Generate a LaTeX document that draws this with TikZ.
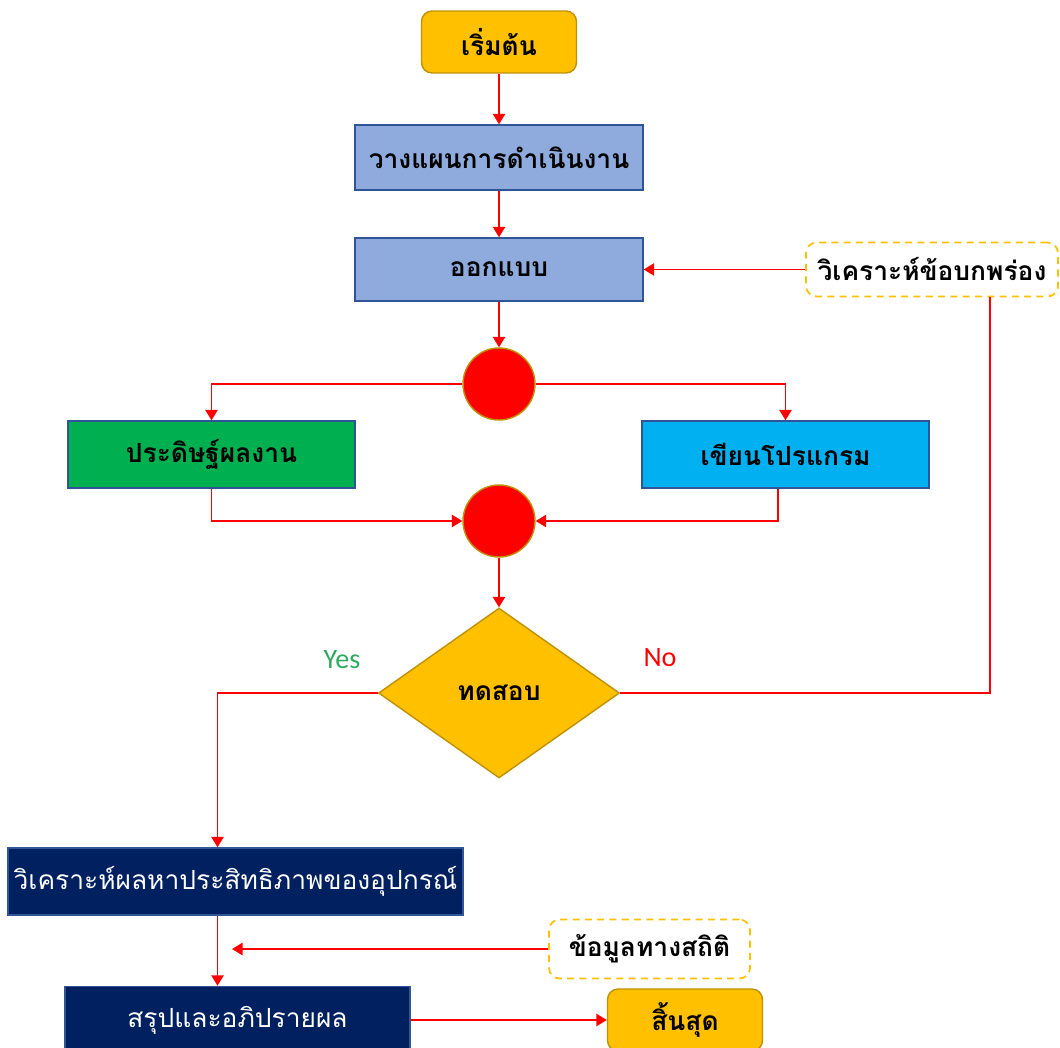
\documentclass[tikz,border=0pt]{standalone}
\usepackage{fontspec}
\newfontfamily\thaifont[Script=Thai]{Loma}
\newfontfamily\latinfont{Carlito}
\usepackage{tikz}
\usetikzlibrary{arrows.meta,shapes.geometric}
\definecolor{gold}{HTML}{FFC000}
\definecolor{golddark}{HTML}{BF9000}
\definecolor{steel}{HTML}{8FAADC}
\definecolor{steeldark}{HTML}{2F5597}
\definecolor{leaf}{HTML}{00B050}
\definecolor{sky}{HTML}{00B0F0}
\definecolor{navy}{HTML}{002060}
\definecolor{yesgreen}{HTML}{2EAA5E}
\newcommand{\thaitext}{\thaifont\fontsize{15}{18}\selectfont}

\begin{document}
\begin{tikzpicture}[x=0.02cm, y=-0.02cm,
    box/.style={rectangle, draw=steeldark, line width=0.8pt, font=\thaitext\bfseries, inner sep=2pt},
    terminal/.style={rectangle, rounded corners=6pt, fill=gold, draw=golddark, line width=0.8pt,
        font=\thaitext\bfseries, minimum width=3.1cm, minimum height=1.24cm},
    note/.style={rectangle, rounded corners=6pt, draw=gold, dashed, dash pattern=on 4pt off 3pt,
        line width=1pt, fill=white, font=\thaitext\bfseries},
    darkbox/.style={rectangle, fill=navy, draw=steeldark, line width=0.8pt, text=white,
        font=\thaitext, minimum height=1.34cm},
    junction/.style={circle, fill=red, draw=golddark, line width=0.8pt, minimum size=1.44cm, inner sep=0pt},
    flow/.style={draw=red, line width=1.1pt, -{Triangle[width=7pt,length=6pt]}},
    link/.style={draw=red, line width=1.1pt}]
\useasboundingbox (0,0) rectangle (1060,1047);
\clip (0,0) rectangle (1060,1047);

\node[terminal] (start) at (499,42) {เริ่มต้น};
\node[box, fill=steel, minimum width=5.76cm, minimum height=1.3cm] (plan) at (499,157.5) {วางแผนการดำเนินงาน};
\node[box, fill=steel, minimum width=5.76cm, minimum height=1.26cm] (design) at (499,269.5) {ออกแบบ};
\node[note, minimum width=5.04cm, minimum height=1.08cm] (flaw) at (932,269.5) {วิเคราะห์ข้อบกพร่อง};
\node[junction] (fork) at (499,384) {};
\node[box, fill=leaf, minimum width=5.74cm, minimum height=1.34cm] (invent) at (211.5,454.5) {ประดิษฐ์ผลงาน};
\node[box, fill=sky, minimum width=5.74cm, minimum height=1.34cm] (code) at (785.5,454.5) {เขียนโปรแกรม};
\node[junction] (merge) at (499,521) {};
\node[diamond, fill=gold, draw=golddark, line width=0.8pt, minimum width=4.82cm, minimum height=3.4cm,
    inner sep=0pt, font=\thaitext\bfseries] (test) at (499,693) {ทดสอบ};
\node[font=\latinfont\fontsize{16}{19}\selectfont, text=yesgreen] (yes) at (342,660) {Yes};
\node[font=\latinfont\fontsize{16}{19}\selectfont, text=red] (no) at (660,658) {No};
\node[darkbox, minimum width=9.1cm] (analysis) at (235.5,881.5) {วิเคราะห์ผลหาประสิทธิภาพของอุปกรณ์};
\node[note, minimum width=4.02cm, minimum height=1.18cm] (stat) at (649.5,949) {ข้อมูลทางสถิติ};
\node[darkbox, minimum width=6.9cm] (concl) at (237.5,1020) {สรุปและอภิปรายผล};
\node[terminal] (finish) at (685,1020) {สิ้นสุด};
\coordinate (statend) at (232,949);

\draw[flow] (start) -- (plan);
\draw[flow] (plan) -- (design);
\draw[flow] (flaw) -- (design);
\draw[flow] (design) -- (fork);
\draw[flow] (fork) -| (invent.north);
\draw[flow] (fork) -| (code.north);
\draw[flow] (invent.south) |- (merge);
\draw[flow] ([xshift=-0.15cm]code.south) |- (merge);
\draw[flow] (merge) -- (test);
\draw[link] ([xshift=1.16cm]flaw.south) |- (test.east);
\draw[flow] (test.west) -| ([xshift=-0.36cm]analysis.north);
\draw[flow] ([xshift=-0.36cm]analysis.south) -- ([xshift=-0.36cm]analysis.south |- concl.north);
\draw[flow] (stat) -- (statend);
\draw[flow] (concl) -- (finish);
\end{tikzpicture}
\end{document}
